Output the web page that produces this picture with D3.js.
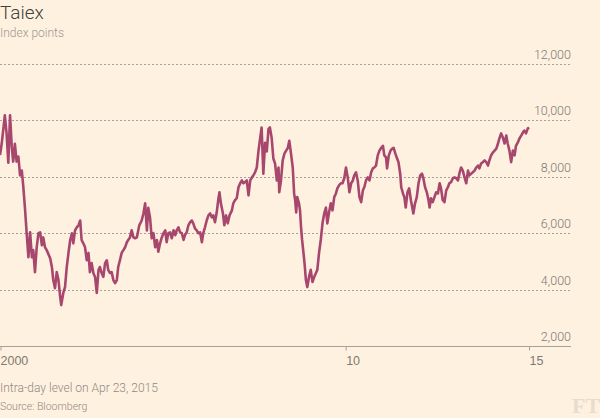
<!DOCTYPE html>
<html>
<head>
<meta charset="utf-8">
<script src="https://cdn.jsdelivr.net/npm/d3@7"></script>
<style>
  html, body { margin: 0; padding: 0; background: #fff1e0; }
  svg { display: block; font-family: Roboto, "Open Sans", sans-serif; }
  .grid line { stroke: #a6a29b; stroke-dasharray: 2,2; }
  .ylab { fill: #7d7a74; font-size: 12.5px; font-weight: 300; }
  .xaxis text { fill: #7d7a74; font-size: 12.5px; font-weight: 300; }
</style>
</head>
<body>
<script>
// Taiex, decimal years and index level
const years = [
  2000.00, 2000.05, 2000.14, 2000.19, 2000.24, 2000.29, 2000.34, 2000.38, 2000.43, 2000.48,
  2000.53, 2000.58, 2000.63, 2000.67, 2000.72, 2000.77, 2000.82, 2000.87, 2000.92, 2000.96,
  2001.01, 2001.06, 2001.11, 2001.16, 2001.21, 2001.25, 2001.30, 2001.35, 2001.45, 2001.50,
  2001.54, 2001.59, 2001.64, 2001.69, 2001.74, 2001.77, 2001.83, 2001.88, 2001.93, 2001.98,
  2002.03, 2002.08, 2002.12, 2002.17, 2002.22, 2002.27, 2002.32, 2002.36, 2002.41, 2002.46,
  2002.51, 2002.56, 2002.60, 2002.65, 2002.70, 2002.75, 2002.80, 2002.85, 2002.89, 2002.94,
  2002.99, 2003.04, 2003.09, 2003.13, 2003.18, 2003.23, 2003.28, 2003.33, 2003.38, 2003.42,
  2003.47, 2003.52, 2003.57, 2003.62, 2003.67, 2003.71, 2003.76, 2003.81, 2003.86, 2003.91,
  2003.96, 2004.03, 2004.10, 2004.15, 2004.20, 2004.25, 2004.29, 2004.34, 2004.39, 2004.44,
  2004.49, 2004.54, 2004.58, 2004.63, 2004.68, 2004.73, 2004.78, 2004.82, 2004.87, 2004.92,
  2004.97, 2005.02, 2005.07, 2005.11, 2005.16, 2005.21, 2005.26, 2005.31, 2005.35, 2005.40,
  2005.45, 2005.50, 2005.55, 2005.59, 2005.64, 2005.69, 2005.74, 2005.79, 2005.84, 2005.88,
  2005.93, 2005.98, 2006.03, 2006.08, 2006.13, 2006.17, 2006.22, 2006.27, 2006.32, 2006.35,
  2006.39, 2006.45, 2006.49, 2006.54, 2006.59, 2006.64, 2006.71, 2006.75, 2006.80, 2006.85,
  2006.90, 2006.95, 2007.00, 2007.04, 2007.09, 2007.14, 2007.19, 2007.24, 2007.29, 2007.33,
  2007.38, 2007.43, 2007.48, 2007.53, 2007.57, 2007.62, 2007.67, 2007.72, 2007.77, 2007.81,
  2007.86, 2007.91, 2007.96, 2008.01, 2008.06, 2008.08, 2008.13, 2008.18, 2008.23, 2008.28,
  2008.33, 2008.37, 2008.42, 2008.47, 2008.51, 2008.54, 2008.57, 2008.60, 2008.65, 2008.68,
  2008.71, 2008.74, 2008.78, 2008.81, 2008.85, 2008.89, 2008.94, 2008.99, 2009.04, 2009.09,
  2009.14, 2009.18, 2009.23, 2009.28, 2009.33, 2009.38, 2009.43, 2009.47, 2009.52, 2009.57,
  2009.62, 2009.67, 2009.72, 2009.76, 2009.81, 2009.86, 2009.91, 2009.96, 2010.01, 2010.06,
  2010.11, 2010.16, 2010.21, 2010.25, 2010.30, 2010.35, 2010.40, 2010.45, 2010.50, 2010.54,
  2010.59, 2010.64, 2010.69, 2010.74, 2010.79, 2010.83, 2010.88, 2010.93, 2010.98, 2011.03,
  2011.08, 2011.12, 2011.17, 2011.20, 2011.25, 2011.30, 2011.35, 2011.39, 2011.44, 2011.49,
  2011.53, 2011.58, 2011.61, 2011.66, 2011.70, 2011.74, 2011.79, 2011.84, 2011.89, 2011.93,
  2011.96, 2012.01, 2012.06, 2012.11, 2012.16, 2012.21, 2012.25, 2012.30, 2012.35, 2012.40,
  2012.43, 2012.47, 2012.52, 2012.57, 2012.62, 2012.67, 2012.72, 2012.76, 2012.81, 2012.86,
  2012.91, 2012.96, 2013.00, 2013.05, 2013.10, 2013.15, 2013.20, 2013.25, 2013.29, 2013.34,
  2013.39, 2013.44, 2013.49, 2013.54, 2013.58, 2013.63, 2013.68, 2013.73, 2013.78, 2013.83,
  2013.87, 2013.92, 2013.97, 2014.02, 2014.07, 2014.12, 2014.16, 2014.21, 2014.26, 2014.31,
  2014.36, 2014.41, 2014.45, 2014.50, 2014.55, 2014.60, 2014.65, 2014.69, 2014.74, 2014.79,
  2014.84, 2014.89, 2014.93, 2014.98, 2015.03, 2015.08, 2015.13, 2015.17, 2015.22, 2015.27,
  2015.31
];
const taiex = [
  8770, 9180, 10180, 9540, 8500, 10180, 9070, 8540, 9170, 8540,
  8720, 8050, 8220, 7700, 6910, 6000, 5150, 6030, 5150, 5400,
  4620, 5500, 6000, 6030, 5570, 5850, 5500, 5400, 5110, 4800,
  4340, 4050, 4620, 4340, 3740, 3450, 3880, 4090, 4800, 5300,
  5760, 6000, 5640, 6100, 6210, 6280, 6450, 5760, 5640, 5500,
  5040, 5300, 4620, 4940, 4590, 4450, 3880, 4700, 4800, 4590,
  4450, 4940, 5040, 4700, 4590, 4620, 4340, 4230, 4340, 4800,
  5040, 5300, 5400, 5500, 5680, 5760, 5850, 6100, 5850, 5820,
  5850, 6280, 6450, 6700, 7060, 6100, 6900, 6560, 5820, 6000,
  5500, 5760, 5340, 5640, 5850, 6000, 6100, 5680, 6000, 6030,
  5820, 6100, 5930, 6100, 6210, 6030, 6000, 5760, 5930, 6030,
  6280, 6390, 6450, 6350, 6170, 6100, 6000, 6030, 5680, 6000,
  6210, 6450, 6630, 6700, 6560, 6630, 6390, 6740, 7240, 7450,
  7060, 6700, 6280, 6630, 6350, 6630, 6810, 7060, 7170, 7240,
  7630, 7770, 7870, 7770, 7810, 7870, 7340, 7870, 7980, 8050,
  8160, 8330, 8930, 9390, 9750, 8110, 9210, 8900, 9700, 9750,
  9390, 8650, 8470, 7870, 8330, 7450, 7870, 8580, 8820, 8930,
  9030, 9280, 8820, 8330, 7410, 7170, 6740, 7280, 7060, 6810,
  6210, 5760, 5300, 4940, 4340, 4090, 4450, 4700, 4270, 4450,
  4590, 4700, 5300, 5760, 6350, 6700, 6910, 6350, 6740, 7060,
  6810, 7280, 7410, 7590, 7700, 7770, 7770, 7950, 8330, 7980,
  7450, 7770, 7870, 8050, 8160, 7870, 7280, 7100, 7520, 7630,
  7870, 7980, 7870, 8160, 8300, 8330, 8400, 8760, 8930, 9030,
  9100, 8760, 8690, 8300, 8760, 8930, 9000, 9030, 8820, 8650,
  8520, 8110, 7630, 7410, 7280, 6910, 7450, 7590, 7170, 6910,
  6700, 7060, 7280, 7770, 8050, 8110, 7950, 7630, 7450, 7170,
  6910, 7240, 7100, 7280, 7450, 7410, 7770, 7590, 7170, 7100,
  7520, 7630, 7770, 7810, 7950, 7980, 7950, 7870, 8110, 8330,
  8220, 7980, 7770, 8220, 8050, 8110, 8160, 8220, 8330, 8400,
  8300, 8470, 8520, 8580, 8520, 8400, 8580, 8760, 8860, 8930,
  9000, 9180, 9360, 9540, 9390, 9180, 9460, 9180, 8930, 8520,
  8930, 8760, 9100, 9210, 9360, 9460, 9570, 9640, 9540, 9710,
  9750
];
const yTicks = [2000, 4000, 6000, 8000, 10000, 12000];
const xTickDates = ["2000-01-01", "2010-01-01", "2015-04-23"];
const xTickLabels = ["2000", "10", "15"];
const firstDay = "2000-01-01", lastDay = "2015-04-23";

const title = "Taiex",
      subtitle = "Index points",
      note = "Intra-day level on Apr 23, 2015",
      source = "Source: Bloomberg";

function decimalToDate(y) {
  const yr = Math.floor(y),
        start = Date.UTC(yr, 0, 1),
        end = Date.UTC(yr + 1, 0, 1);
  return new Date(start + (y - yr) * (end - start));
}

const width = 600, height = 418,
      plotLeft = 0, plotRight = 529, gridRight = 571,
      plotTop = 64, plotBottom = 346;

const data = years.map((y, i) => ({date: decimalToDate(y), value: taiex[i]}));

const x = d3.scaleUtc([new Date(firstDay), new Date(lastDay)], [plotLeft, plotRight]);
const y = d3.scaleLinear([2000, 12000], [plotBottom, plotTop]);

const svg = d3.select("body").append("svg")
  .attr("width", width)
  .attr("height", height);

svg.append("rect")
  .attr("width", width).attr("height", height)
  .attr("fill", "#fff1e0");

// dotted grid lines and their labels
const grid = svg.append("g").attr("class", "grid");
grid.selectAll("line")
  .data(yTicks.filter(d => d > 2000))
  .join("line")
  .attr("x1", 0).attr("x2", gridRight)
  .attr("y1", d => Math.round(y(d)) + 0.5)
  .attr("y2", d => Math.round(y(d)) + 0.5);

svg.append("g").selectAll("text")
  .data(yTicks)
  .join("text")
  .attr("class", "ylab")
  .attr("x", gridRight)
  .attr("y", d => y(d) - 5)
  .attr("text-anchor", "end")
  .text(d3.format(","));

// bottom axis
const xAxis = d3.axisBottom(x)
  .tickValues(xTickDates.map(d => new Date(d)))
  .tickFormat((d, i) => xTickLabels[i])
  .tickSizeInner(4)
  .tickSizeOuter(0)
  .tickPadding(6);

const gx = svg.append("g")
  .attr("class", "xaxis")
  .attr("transform", `translate(0, ${Math.round(plotBottom) + 0.5})`)
  .call(xAxis);
gx.select(".domain").remove();
gx.selectAll(".tick line").attr("stroke", "#a6a29b");
gx.selectAll(".tick text")
  .attr("text-anchor", "start")
  .attr("x", 0)
  .attr("dy", "0.71em");
gx.selectAll(".tick").filter((d, i) => i === 0)
  .select("line").attr("transform", "translate(0.5,0)");
gx.append("line")
  .attr("x1", 0).attr("x2", gridRight)
  .attr("stroke", "#a6a29b");

// the series
const line = d3.line()
  .x(d => x(d.date))
  .y(d => y(d.value));

svg.append("path")
  .datum(data)
  .attr("fill", "none")
  .attr("stroke", "#a8476e")
  .attr("stroke-width", 2.6)
  .attr("stroke-linejoin", "round")
  .attr("d", line);

// texts
svg.append("text")
  .attr("x", 0).attr("y", 18.5)
  .attr("fill", "#43413e")
  .style("font-size", "19px")
  .style("font-weight", 300)
  .text(title);

svg.append("text")
  .attr("x", 0).attr("y", 37)
  .attr("fill", "#9e9890")
  .style("font-size", "12px")
  .style("font-weight", 300)
  .text(subtitle);

svg.append("text")
  .attr("x", 0).attr("y", 392)
  .attr("fill", "#8f8a83")
  .style("font-size", "12px")
  .style("font-weight", 300)
  .text(note);

svg.append("text")
  .attr("x", 0).attr("y", 410)
  .attr("fill", "#8f8a83")
  .style("font-size", "10.5px")
  .style("font-weight", 300)
  .text(source);

svg.append("text")
  .attr("x", 572).attr("y", 413)
  .attr("fill", "#eadccb")
  .style("font-family", "'Liberation Serif', 'DejaVu Serif', serif")
  .style("font-size", "22px")
  .style("font-weight", "bold")
  .text("FT");
</script>
</body>
</html>
